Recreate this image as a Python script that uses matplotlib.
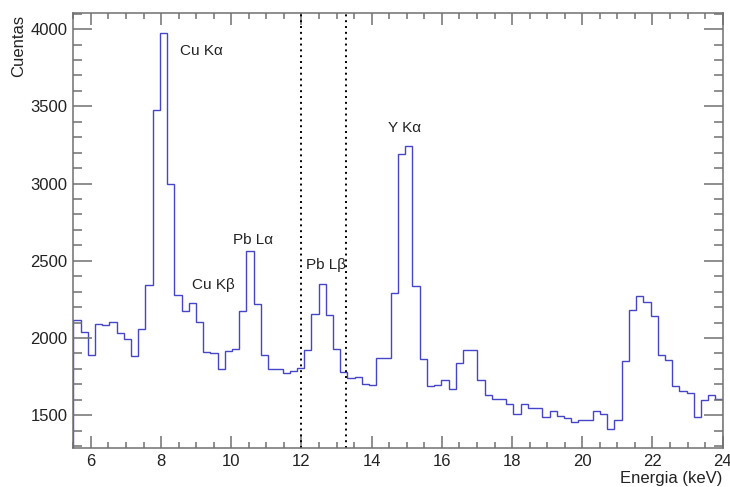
import numpy as np
import matplotlib
matplotlib.use('Agg')
import matplotlib.pyplot as plt
from matplotlib.ticker import MultipleLocator

plt.rcParams['font.family'] = ['Liberation Sans', 'DejaVu Sans']

# 90 bins between 5.5 and 24 keV
edges = np.linspace(5.5, 24.0, 91)
counts = [2117, 2041, 1888, 2089, 2082, 2104, 2030, 1996, 1884, 2061,
          2343, 3479, 3974, 3000, 2280, 2175, 2229, 2104, 1912, 1901,
          1798, 1916, 1931, 2175, 2563, 2221, 1893, 1800, 1800, 1774,
          1789, 1806, 1925, 2156, 2352, 2147, 1930, 1778, 1741, 1746,
          1703, 1699, 1872, 1872, 2292, 3193, 3240, 2339, 1865, 1688,
          1699, 1725, 1671, 1839, 1921, 1921, 1731, 1634, 1608, 1602,
          1576, 1511, 1573, 1547, 1547, 1489, 1530, 1493, 1482, 1457,
          1472, 1468, 1526, 1511, 1414, 1470, 1849, 2184, 2274, 2234,
          2141, 1893, 1860, 1688, 1655, 1645, 1487, 1597, 1634, 1608]

# peak labels (text, x keV, y counts)
peak_names = ['Cu Kα', 'Cu Kβ', 'Pb Lα', 'Pb Lβ', 'Y Kα']
peak_x = [8.54, 8.88, 10.05, 12.13, 14.47]
peak_y = [3860, 2346, 2637, 2475, 3361]

# region limits (dotted lines)
region = [12.0, 13.28]

fig = plt.figure(figsize=(7.3, 4.87), dpi=100)
ax = fig.add_axes([73.3/730, 1 - 448.3/487, (722.7-73.3)/730, (448.3-13.3)/487])

ax.stairs(counts, edges, color='#4545c8', lw=1.0)
for xr in region:
    ax.axvline(xr, color='black', lw=1.4, ls=(0, (1, 2)))

for name, x, y in zip(peak_names, peak_x, peak_y):
    ax.text(x, y, name, fontsize=11, color='#222222', ha='left', va='center')

ax.set_xlim(5.5, 24)
ax.set_ylim(1286, 4102)
ax.xaxis.set_major_locator(MultipleLocator(2))
ax.xaxis.set_minor_locator(MultipleLocator(0.5))
ax.yaxis.set_major_locator(MultipleLocator(500))
ax.yaxis.set_minor_locator(MultipleLocator(100))

frame = '#707070'
for s in ax.spines.values():
    s.set_color(frame)
    s.set_linewidth(1.1)
ax.tick_params(axis='both', which='both', direction='in', top=True, right=True,
               color=frame, width=1.1, labelsize=12, labelcolor='#222222')
ax.tick_params(axis='x', which='major', length=8.6, pad=4)
ax.tick_params(axis='x', which='minor', length=4.3)
ax.tick_params(axis='y', which='major', length=13.7, pad=4)
ax.tick_params(axis='y', which='minor', length=6.8)

fig.text(19/730, 1 - 15/487, 'Cuentas', rotation=90, ha='center', va='top',
         fontsize=12, color='#222222')
fig.text(722/730, 1 - 479/487, 'Energia (keV)', ha='right', va='center',
         fontsize=12, color='#222222')

fig.savefig('out.png', dpi=100)
